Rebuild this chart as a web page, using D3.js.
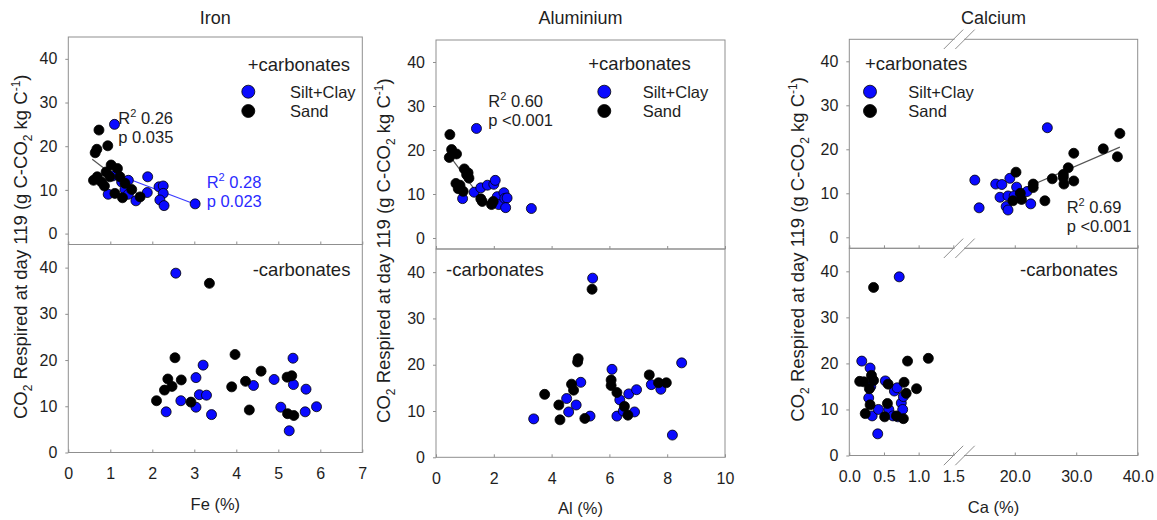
<!DOCTYPE html>
<html>
<head>
<meta charset="utf-8">
<script src="https://cdn.jsdelivr.net/npm/d3@7"></script>
<style>
  body { margin: 0; background: #fff; }
  svg { display: block; font-family: "Liberation Sans", Arial, sans-serif; }
</style>
</head>
<body>
<svg id="chart" width="1157" height="520"></svg>
<script>
// ---- tick values ----
const yTicks = [0, 10, 20, 30, 40];
const feTicks = [0, 1, 2, 3, 4, 5, 6, 7];
const alTicks = [0, 2, 4, 6, 8, 10];
const caTicks = [0, 0.5, 1.0, 1.5, 20, 30, 40];
const caTickLabels = ["0.0", "0.5", "1.0", "1.5", "20.0", "30.0", "40.0"];

// ---- Iron: [Fe %, CO2 respired] ----
const ironCarbSilt = [[1.10,25.0],[1.06,13.2],[1.27,11.8],[1.43,12.2],[1.35,10.1],[0.95,9.0],[1.43,9.0],[1.61,7.5],[1.88,9.4],[1.89,13.0],[2.16,10.7],[2.26,10.9],[2.26,9.2],[2.18,7.7],[2.28,6.4],[3.02,6.8]];
const ironCarbSand = [[0.73,23.7],[0.68,19.3],[0.64,18.5],[0.94,20.1],[1.02,15.7],[1.17,14.9],[0.90,14.1],[0.60,12.2],[0.69,13.0],[0.79,11.8],[0.86,10.9],[1.11,9.2],[1.29,8.2],[1.23,13.0],[1.35,11.5],[1.71,8.4],[1.51,10.1],[0.99,13.0]];
const ironNoCarbSilt = [[2.56,38.8],[3.21,18.9],[3.04,16.2],[3.12,12.5],[3.29,12.4],[2.68,11.2],[2.33,8.8],[3.04,9.8],[3.41,8.2],[4.41,14.5],[4.90,15.8],[5.35,20.4],[5.36,14.7],[5.66,13.7],[5.06,9.8],[5.64,8.8],[5.91,9.9],[5.26,4.7]];
const ironNoCarbSand = [[3.36,36.6],[2.54,20.5],[2.37,15.9],[2.47,14.3],[2.29,13.5],[2.69,15.7],[2.10,11.2],[2.92,10.9],[3.97,21.2],[3.89,14.2],[4.22,15.4],[4.59,17.6],[4.31,9.2],[5.21,16.3],[5.32,16.6],[5.22,8.4],[5.37,8.0]];
const ironSandFit = [[0.57,17.0],[1.75,8.3]];
const ironSiltFit = [[1.0,14.1],[3.02,6.7]];
const ironSandStats = ["0.26", "0.035"];
const ironSiltStats = ["0.28", "0.023"];

// ---- Aluminium: [Al %, CO2 respired] ----
const alCarbSilt = [[1.40,24.9],[0.92,8.95],[1.32,10.4],[1.55,11.4],[1.78,12.0],[2.00,12.2],[2.05,13.1],[2.12,9.4],[2.17,7.6],[2.35,10.3],[2.38,9.0],[2.46,9.1],[2.41,6.9],[3.30,6.7]];
const alCarbSand = [[0.48,23.5],[0.54,20.1],[0.71,19.1],[0.46,18.3],[0.98,15.7],[1.11,14.8],[1.14,13.6],[0.69,12.4],[0.77,11.2],[0.94,10.6],[1.55,8.9],[1.60,8.3],[1.92,7.6],[1.98,8.3],[0.83,12.0],[1.06,14.4]];
const alNoCarbSilt = [[5.42,38.7],[3.38,8.3],[4.52,12.7],[4.59,9.8],[4.85,11.3],[5.01,16.2],[5.33,8.9],[6.09,19.0],[6.26,8.9],[6.36,12.4],[6.48,10.0],[6.67,13.7],[6.87,9.8],[6.94,14.6],[7.45,15.7],[7.78,14.7],[8.50,20.4],[8.18,4.8]];
const alNoCarbSand = [[5.40,36.3],[3.76,13.6],[4.25,11.3],[4.29,8.1],[4.69,15.8],[4.76,14.5],[4.92,21.3],[4.90,20.6],[5.15,8.4],[6.06,16.7],[6.06,15.5],[6.26,14.0],[6.52,11.0],[6.64,9.1],[7.38,17.8],[7.70,16.1],[7.97,16.1]];
const alFit = [[0.48,18.6],[1.45,10.0]];
const alStats = ["0.60", "<0.001"];

// ---- Calcium: [Ca %, CO2 respired] ----
const caCarbSilt = [[25.3,24.9],[13.5,13.0],[14.2,6.7],[16.9,12.1],[17.9,12.0],[17.6,9.1],[19.2,13.4],[18.9,9.4],[18.6,7.0],[18.9,6.2],[20.3,11.4],[19.9,9.4],[22.0,10.4],[22.6,7.6]];
const caCarbSand = [[20.2,14.8],[19.7,8.3],[20.9,10.0],[21.1,8.6],[23.0,12.1],[23.0,11.3],[24.9,8.3],[26.1,13.3],[27.9,14.3],[28.7,15.8],[28.0,12.1],[29.6,19.1],[29.6,12.8],[34.4,20.1],[36.7,18.3],[37.1,23.6],[27.9,13.6]];
const caNoCarbSilt = [[0.72,38.8],[0.18,20.5],[0.30,19.0],[0.31,15.0],[0.28,12.5],[0.33,8.6],[0.41,4.7],[0.42,10.0],[0.52,16.2],[0.57,10.0],[0.63,8.6],[0.65,14.0],[0.69,14.7],[0.70,8.4],[0.75,11.4],[0.77,10.0],[0.78,12.8]];
const caNoCarbSand = [[0.35,36.5],[0.15,16.1],[0.21,16.0],[0.32,17.4],[0.35,16.3],[0.29,14.5],[0.30,11.0],[0.23,9.1],[0.51,8.4],[0.56,15.5],[0.55,11.3],[0.68,8.6],[0.78,8.0],[0.79,15.9],[0.82,13.5],[0.84,20.5],[0.97,14.5],[1.14,21.1]];
const caFit = [[18.0,9.0],[37.1,20.5]];
const caStats = ["0.69", "<0.001"];

const seriesNames = ["Silt+Clay", "Sand"];
const titles = ["Iron", "Aluminium", "Calcium"];
const xTitles = ["Fe (%)", "Al (%)", "Ca (%)"];

// ---- styling ----
const FRAME = "#8f8f8f";
const TEXT = "#1e1e1e";
const BLUE = "#0a0aff";
const BLUE_TEXT = "#2b2bff";
const FONT = 16;

const svg = d3.select("#chart");

function drawPanel(p) {
  const g = svg.append("g");
  const x = p.x;
  const [x0, x1] = [x.range()[0], x.range()[x.range().length - 1]];
  const yTop = d3.scaleLinear().domain([-2.5, 45]).range([p.mid, p.top]);
  const yBot = d3.scaleLinear().domain([0, 45]).range([p.bottom, p.mid]);

  // frames
  [[p.top, p.mid], [p.mid, p.bottom]].forEach(([a, b]) => {
    g.append("rect").attr("x", x0).attr("y", a).attr("width", x1 - x0).attr("height", b - a)
      .attr("fill", "none").attr("stroke", FRAME).attr("stroke-width", 1);
  });

  // y axes
  [yTop, yBot].forEach(y => {
    const ax = g.append("g").attr("transform", `translate(${x0},0)`)
      .call(d3.axisLeft(y).tickValues(yTicks).tickSize(3).tickPadding(8));
    ax.select(".domain").remove();
    ax.selectAll("line").attr("stroke", FRAME);
    ax.selectAll("text").attr("fill", TEXT).style("font-size", FONT + "px")
      .style("font-family", "Liberation Sans, Arial, sans-serif");
  });

  // x axes (ticks pointing inward)
  const topAx = g.append("g").attr("transform", `translate(0,${p.mid})`)
    .call(d3.axisBottom(x).tickValues(p.ticks).tickSizeInner(-3).tickSizeOuter(0).tickFormat(""));
  topAx.select(".domain").remove();
  topAx.selectAll("line").attr("stroke", FRAME);

  const botAx = g.append("g").attr("transform", `translate(0,${p.bottom})`)
    .call(d3.axisBottom(x).tickValues(p.ticks).tickSizeInner(-3).tickSizeOuter(0).tickPadding(15.6)
      .tickFormat((d, i) => p.tickLabels ? p.tickLabels[i] : d));
  botAx.select(".domain").remove();
  botAx.selectAll("line").attr("stroke", FRAME);
  botAx.selectAll("text").attr("fill", TEXT).style("font-size", FONT + "px")
    .style("font-family", "Liberation Sans, Arial, sans-serif");

  // panel title and x-axis title
  g.append("text").attr("x", (x0 + x1) / 2).attr("y", 24).attr("text-anchor", "middle")
    .attr("fill", TEXT).style("font-size", "18px").text(p.title);
  g.append("text").attr("x", (x0 + x1) / 2).attr("y", p.bottom + 57).attr("text-anchor", "middle")
    .attr("fill", TEXT).style("font-size", "16.5px").text(p.xTitle);

  // y-axis title
  const yt = g.append("text")
    .attr("transform", `translate(${p.yTitleX},${(p.top + p.bottom) / 2 + 2}) rotate(-90)`)
    .attr("text-anchor", "middle").attr("fill", TEXT).style("font-size", "18.5px");
  yt.append("tspan").text("CO");
  yt.append("tspan").attr("dy", 5).style("font-size", "12px").text("2");
  yt.append("tspan").attr("dy", -5).text(" Respired at day 119 (g C-CO");
  yt.append("tspan").attr("dy", 5).style("font-size", "12px").text("2");
  yt.append("tspan").attr("dy", -5).text(" kg C");
  yt.append("tspan").attr("dy", -7).style("font-size", "12px").text("-1");
  yt.append("tspan").attr("dy", 7).text(")");

  const line = d3.line();
  // regression lines
  p.fits.forEach(f => {
    g.append("path").attr("d", line(f.data.map(d => [x(d[0]), yTop(d[1])])))
      .attr("fill", "none").attr("stroke", f.color).attr("stroke-width", 1.2);
  });

  // points
  const dots = (data, y, fill) => g.append("g").selectAll("circle").data(data).join("circle")
    .attr("cx", d => x(d[0])).attr("cy", d => y(d[1])).attr("r", 5)
    .attr("fill", fill).attr("stroke", "#000").attr("stroke-width", 0.8);
  dots(p.carbSilt, yTop, BLUE);
  dots(p.carbSand, yTop, "#000");
  dots(p.noCarbSilt, yBot, BLUE);
  dots(p.noCarbSand, yBot, "#000");

  // legend
  const L = p.legend;
  g.append("text").attr("x", L.headX).attr("y", L.headY).attr("fill", TEXT)
    .style("font-size", "18.5px").text("+carbonates");
  [BLUE, "#000"].forEach((c, i) => {
    g.append("circle").attr("cx", L.dotX).attr("cy", L.dotY + i * 19.3).attr("r", 6.5)
      .attr("fill", c).attr("stroke", "#000").attr("stroke-width", 0.8);
    g.append("text").attr("x", L.textX).attr("y", L.dotY + i * 19.3 + 6).attr("fill", TEXT)
      .style("font-size", "16.5px").text(seriesNames[i]);
  });
  g.append("text").attr("x", p.minusX).attr("y", 275.8).attr("fill", TEXT)
    .style("font-size", "18.5px").text("-carbonates");

  // fit statistics
  p.stats.forEach(s => {
    const t = g.append("text").attr("x", s.x).attr("y", s.y).attr("fill", s.color).style("font-size", "16.5px");
    t.append("tspan").text("R");
    t.append("tspan").attr("dy", -7).style("font-size", "11px").text("2");
    t.append("tspan").attr("dy", 7).text(" " + s.v[0]);
    g.append("text").attr("x", s.x).attr("y", s.y + 19).attr("fill", s.color)
      .style("font-size", "16.5px").text("p " + s.v[1]);
  });

  return { x, yTop, yBot };
}

// Iron
drawPanel({
  x: d3.scaleLinear().domain([0, 7]).range([68.3, 362.3]),
  top: 37, mid: 244.5, bottom: 452.5,
  ticks: feTicks, title: titles[0], xTitle: xTitles[0], yTitleX: 26.5,
  carbSilt: ironCarbSilt, carbSand: ironCarbSand, noCarbSilt: ironNoCarbSilt, noCarbSand: ironNoCarbSand,
  fits: [{ data: ironSandFit, color: "#555" }, { data: ironSiltFit, color: "#3a3aff" }],
  legend: { headX: 247.7, headY: 70.8, dotX: 248.3, dotY: 91.7, textX: 290 },
  minusX: 252.7,
  stats: [{ x: 118.3, y: 123.7, v: ironSandStats, color: TEXT },
          { x: 206.7, y: 187.5, v: ironSiltStats, color: BLUE_TEXT }]
});

// Aluminium
drawPanel({
  x: d3.scaleLinear().domain([0, 10]).range([436, 725]),
  top: 40, mid: 249, bottom: 457.3,
  ticks: alTicks, title: titles[1], xTitle: xTitles[1], yTitleX: 389.5,
  carbSilt: alCarbSilt, carbSand: alCarbSand, noCarbSilt: alNoCarbSilt, noCarbSand: alNoCarbSand,
  fits: [{ data: alFit, color: "#555" }],
  legend: { headX: 588.3, headY: 69.8, dotX: 604.3, dotY: 91.7, textX: 642.7 },
  minusX: 446,
  stats: [{ x: 488.3, y: 106.5, v: alStats, color: TEXT }]
});

// Calcium (broken x axis: 0-1.5 then 10-40)
const caX = d3.scaleLinear().domain([0, 1.5, 10, 40]).range([849.3, 953.3, 953.3, 1137.7]);
drawPanel({
  x: caX,
  top: 39.3, mid: 248.3, bottom: 455.5,
  ticks: caTicks, tickLabels: caTickLabels, title: titles[2], xTitle: xTitles[2], yTitleX: 803.5,
  carbSilt: caCarbSilt, carbSand: caCarbSand, noCarbSilt: caNoCarbSilt, noCarbSand: caNoCarbSand,
  fits: [{ data: caFit, color: "#555" }],
  legend: { headX: 865, headY: 69.8, dotX: 870, dotY: 91.7, textX: 908.3 },
  minusX: 1020,
  stats: [{ x: 1066.7, y: 212.5, v: caStats, color: TEXT }]
});

// axis break marks on the Calcium frame
[39.3, 248.3, 455.5].forEach(y => {
  svg.append("line").attr("x1", 954.5).attr("x2", 964).attr("y1", y).attr("y2", y)
    .attr("stroke", "#fff").attr("stroke-width", 4);
  [953.5, 965].forEach(cx => {
    svg.append("line").attr("x1", cx - 9.7).attr("y1", y + 9.7).attr("x2", cx + 9.7).attr("y2", y - 9.7)
      .attr("stroke", FRAME).attr("stroke-width", 1);
  });
});
</script>
</body>
</html>
